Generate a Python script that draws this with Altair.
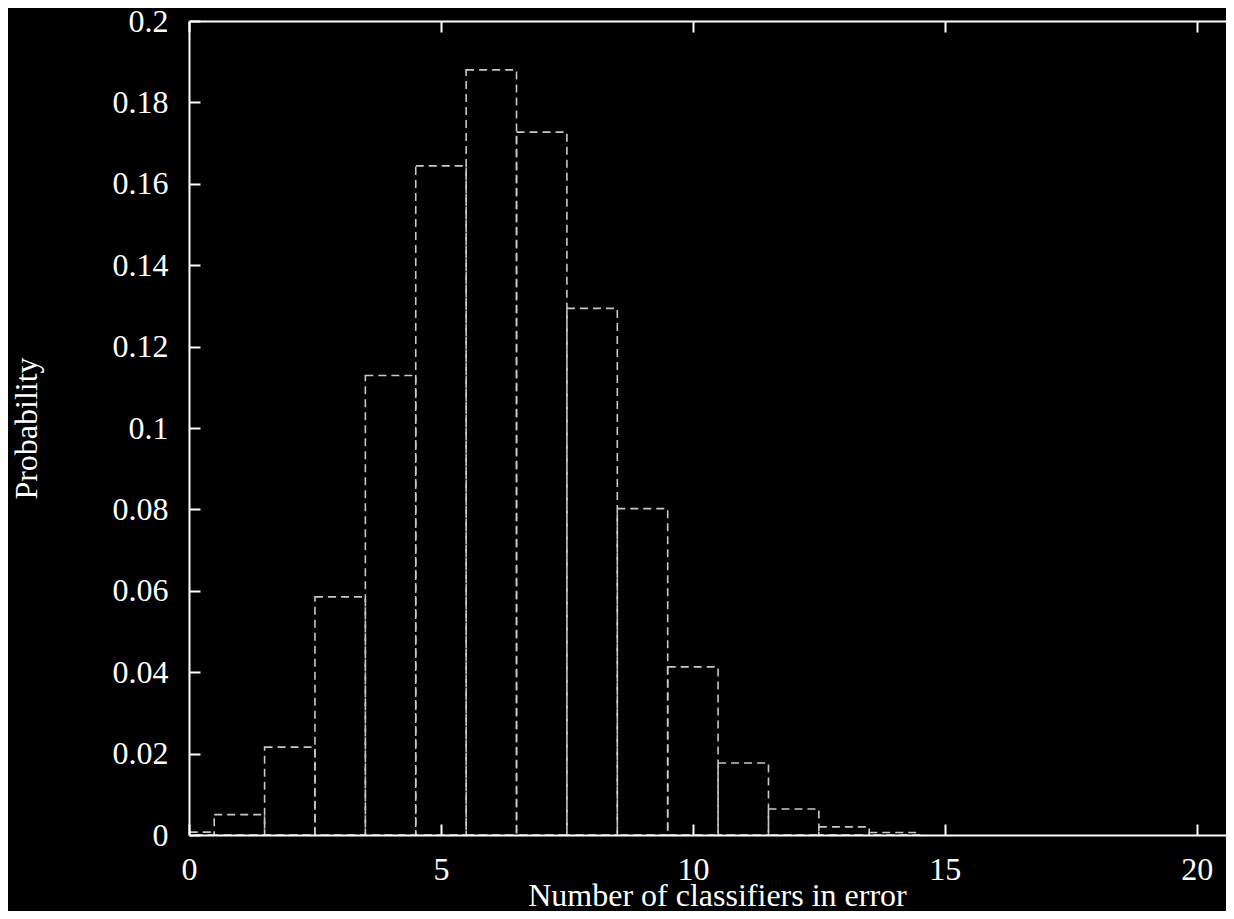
import altair as alt
import pandas as pd

# ---- data ----
errors = list(range(15))
probability = [0.0007, 0.0050, 0.0216, 0.0585, 0.1129, 0.1644, 0.1880, 0.1727,
               0.1294, 0.0802, 0.0413, 0.0177, 0.0064, 0.0020, 0.0006]
x_ticks = [0, 5, 10, 15, 20]
y_ticks = [0, 0.02, 0.04, 0.06, 0.08, 0.1, 0.12, 0.14, 0.16, 0.18, 0.2]

X_DOMAIN = [0, 20.58]
Y_DOMAIN = [0, 0.2]
W, H = 1037, 814
FONT = "Liberation Serif"
FS = 32

df = pd.DataFrame({"k": errors, "p": probability, "base": [0] * len(errors)})
base = alt.Chart(df).transform_calculate(x0="datum.k - 0.5", x1="datum.k + 0.5")

xs = alt.Scale(domain=X_DOMAIN, nice=False, zero=False)
ys = alt.Scale(domain=Y_DOMAIN, nice=False)

common = dict(zindex=1, grid=False, domainColor="white", domainWidth=2,
              tickColor="white", tickWidth=2, labelColor="white", titleColor="white",
              labelFont=FONT, titleFont=FONT, labelFontSize=FS, titleFontSize=FS,
              titleFontWeight="normal", labelFlush=False, labelOverlap=False)

bars = base.mark_rect(filled=False, stroke="#c8c8c8", strokeWidth=1.6,
                      strokeDash=[8, 5], clip=True).encode(
    x=alt.X("x0:Q", scale=xs,
            axis=alt.Axis(orient="bottom", values=x_ticks, ticks=False, tickSize=0,
                          labelPadding=19, format="d",
                          title="Number of classifiers in error",
                          titleX=528, titleY=70, titleBaseline="alphabetic",
                          titleAlign="center", **common)),
    x2="x1:Q",
    y=alt.Y("p:Q", scale=ys,
            axis=alt.Axis(orient="left", values=y_ticks, ticks=False, tickSize=0,
                          labelPadding=21, format="~g", title="Probability",
                          titleAngle=270, titleX=-153, titleY=H / 2,
                          titleBaseline="alphabetic", titleAlign="center", **common)),
    y2="base:Q",
)

inv = base.mark_point(opacity=0)

tick_common = dict(zindex=1, grid=False, labels=False, domainColor="white",
                   domainWidth=2, tickColor="white", tickWidth=2, tickSize=11, title=None)

# inward ticks along bottom and left edges
ticks_bl = inv.encode(
    x=alt.X("k:Q", scale=xs, axis=alt.Axis(orient="top", offset=-H, values=x_ticks,
                                          domain=False, **tick_common)),
    y=alt.Y("p:Q", scale=ys, axis=alt.Axis(orient="right", offset=-W, values=y_ticks,
                                          domain=False, **tick_common)),
)

# top border with inward ticks
ticks_top = inv.encode(
    x=alt.X("k:Q", scale=xs, axis=alt.Axis(orient="bottom", offset=-H, values=x_ticks,
                                          domain=True, **tick_common)),
    y=alt.Y("p:Q", scale=ys, axis=None),
)

chart = alt.layer(bars, ticks_bl, ticks_top).resolve_scale(
    x="independent", y="independent"
).resolve_axis(
    x="independent", y="independent"
).properties(
    width=W, height=H,
    autosize=alt.AutoSizeParams(type="none"),
    padding={"left": 181, "top": 13, "right": 0, "bottom": 76},
).configure(
    background="black"
).configure_view(strokeWidth=0)

chart.save("out.html", embed_options={"renderer": "svg", "actions": False})
